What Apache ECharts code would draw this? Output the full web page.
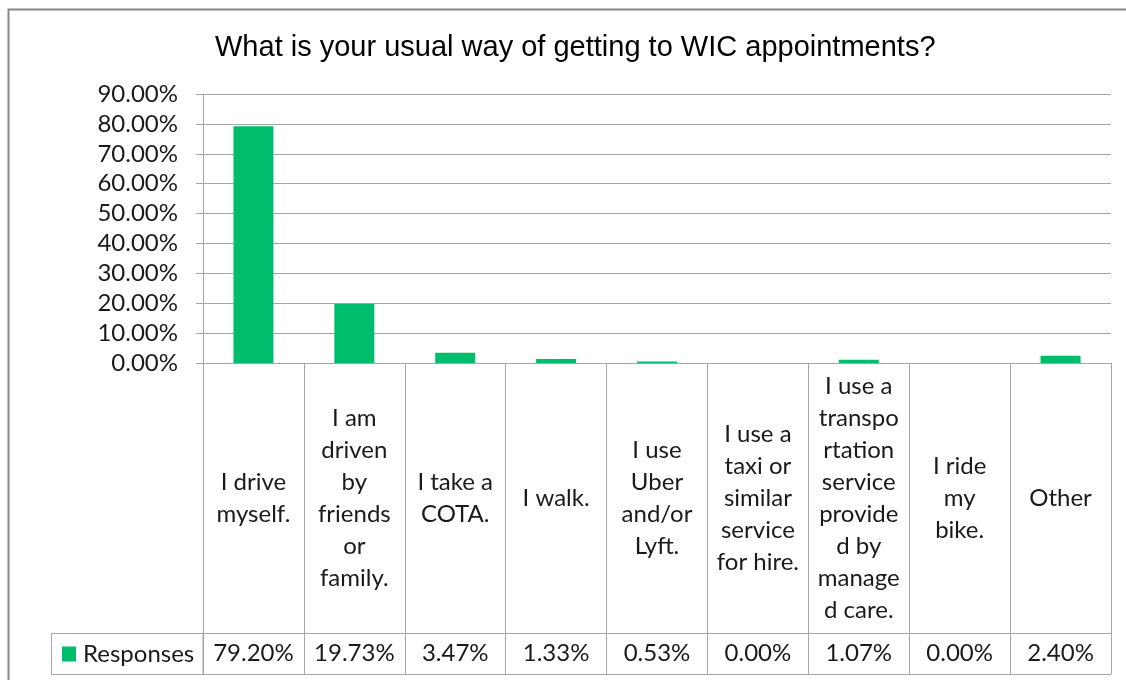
<!DOCTYPE html>
<html>
<head>
<meta charset="utf-8">
<script src="https://cdn.jsdelivr.net/npm/echarts@6/dist/echarts.min.js"></script>
<style>
html,body{margin:0;padding:0;background:#fff;}
#chart{width:1126px;height:680px;}
</style>
</head>
<body>
<div id="chart"></div>
<script>
const title = 'What is your usual way of getting to WIC appointments?';
const seriesName = 'Responses';
const categories = [
  'I drive\nmyself.',
  'I am\ndriven\nby\nfriends\nor\nfamily.',
  'I take a\nCOTA.',
  'I walk.',
  'I use\nUber\nand/or\nLyft.',
  'I use a\ntaxi or\nsimilar\nservice\nfor hire.',
  'I use a\ntranspo\nrtation\nservice\nprovide\nd by\nmanage\nd care.',
  'I ride\nmy\nbike.',
  'Other'
];
const responses = [79.20, 19.73, 3.47, 1.33, 0.53, 0.00, 1.07, 0.00, 2.40];
const yTicks = [0, 10, 20, 30, 40, 50, 60, 70, 80, 90];

const GREEN = '#00BD6D';
const LINE = '#a6a6a6';
const TXT = '#1a1a1a';
const FONT = 'Lato';
const FS = 24;

const gridLeft = 203, gridTop = 94, gridRight = 15, gridBottom = 317;
const catRowH = 270, valRowH = 41;
const plotBottom = 680 - gridBottom;

const chart = echarts.init(document.getElementById('chart'), null, {renderer: 'canvas'});
chart.setOption({
  backgroundColor: '#fff',
  animation: false,
  title: {
    text: title, left: 210, top: 28,
    textStyle: {fontFamily: 'Liberation Sans', fontSize: 29, fontWeight: 'normal', color: '#000'}
  },
  grid: {left: gridLeft, right: gridRight, top: gridTop, bottom: gridBottom, containLabel: false},
  xAxis: [
    {
      type: 'category', data: categories, position: 'bottom',
      axisLine: {show: true, lineStyle: {color: LINE, width: 1}},
      axisTick: {show: true, interval: 0, length: catRowH, lineStyle: {color: LINE}},
      axisLabel: {interval: 0, margin: catRowH / 2, verticalAlign: 'middle', align: 'center',
        fontFamily: FONT, fontSize: FS, lineHeight: 32, color: TXT}
    },
    {
      type: 'category', data: categories, position: 'bottom', offset: catRowH,
      axisLine: {show: true, lineStyle: {color: LINE, width: 1}},
      axisTick: {show: true, interval: 0, length: valRowH, lineStyle: {color: LINE}},
      axisLabel: {interval: 0, margin: valRowH / 2, verticalAlign: 'middle', align: 'center',
        fontFamily: FONT, fontSize: FS, color: TXT,
        formatter: (v, i) => responses[i].toFixed(2) + '%'}
    },
    {
      type: 'category', data: categories, position: 'bottom', offset: catRowH + valRowH,
      axisLine: {show: true, lineStyle: {color: LINE, width: 1}},
      axisTick: {show: false}, axisLabel: {show: false}
    }
  ],
  yAxis: {
    type: 'value', min: yTicks[0], max: yTicks[yTicks.length - 1], interval: yTicks[1] - yTicks[0],
    axisLine: {show: true, lineStyle: {color: LINE}},
    axisTick: {show: true, length: 7, lineStyle: {color: LINE}},
    splitLine: {show: true, lineStyle: {color: LINE}},
    axisLabel: {margin: 25, fontFamily: FONT, fontSize: FS, color: TXT,
      formatter: v => v.toFixed(2) + '%'}
  },
  series: [{
    name: seriesName, type: 'bar', data: responses, barWidth: 40,
    itemStyle: {color: GREEN}
  }],
  graphic: [
    {type: 'rect', left: 6, top: 7, shape: {x: 0, y: 0, width: 1140, height: 700},
      style: {fill: 'none', stroke: '#878787', lineWidth: 2}, silent: true},
    {type: 'rect', shape: {x: 51.5, y: plotBottom + catRowH + 0.5, width: gridLeft - 51.5, height: valRowH},
      style: {fill: 'none', stroke: LINE, lineWidth: 1}, silent: true},
    {type: 'rect', shape: {x: 62, y: plotBottom + catRowH + valRowH / 2 - 7, width: 14, height: 15},
      style: {fill: GREEN}, silent: true},
    {type: 'text', x: 83, y: plotBottom + catRowH + valRowH / 2 + 1,
      style: {text: seriesName, fontFamily: FONT, fontSize: FS, fill: TXT, verticalAlign: 'middle', align: 'left'}, silent: true}
  ]
});
</script>
</body>
</html>
